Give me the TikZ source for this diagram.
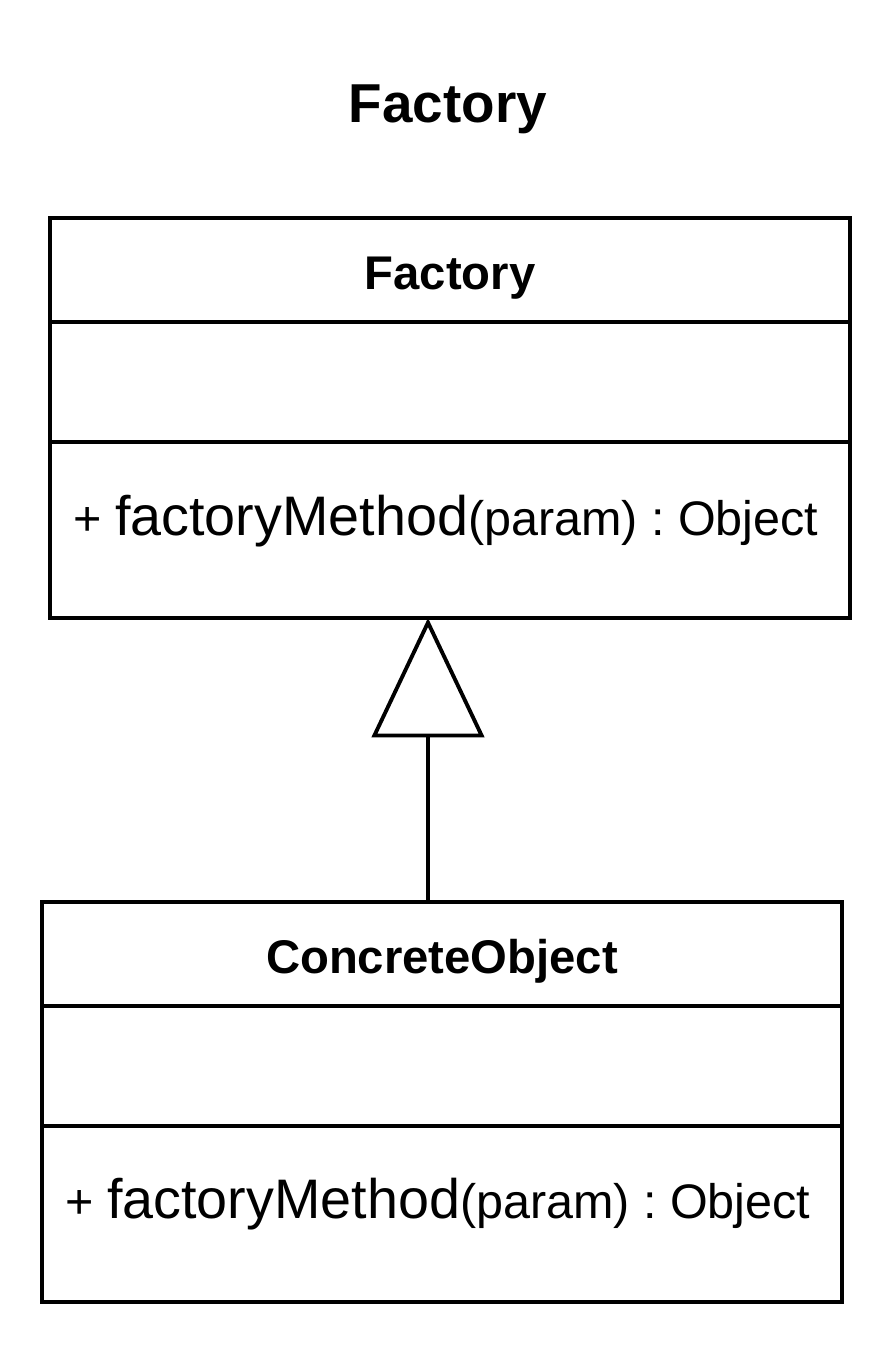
\documentclass[tikz,border=0pt]{standalone}
\usepackage{fontspec}
\setmainfont{Liberation Sans}
\usetikzlibrary{positioning,arrows.meta}
\frenchspacing
\tikzset{
  compartment/.style={draw, rectangle, line width=2.2pt, minimum width=16cm, outer sep=0pt, inner sep=0pt},
  namebox/.style={compartment, minimum height=2.08cm},
  attrbox/.style={compartment, minimum height=2.4cm},
  methbox/.style={compartment, minimum height=3.52cm},
  titletext/.style={anchor=base, inner sep=0pt, font=\fontsize{31.2}{36}\selectfont\bfseries},
  classname/.style={anchor=base, inner sep=0pt, font=\fontsize{26.9}{32}\selectfont\bfseries},
  method/.style={anchor=base west, inner sep=0pt, font=\fontsize{27.6}{32}\selectfont},
  extends/.style={line width=2.2pt, -{Triangle[open, length=68pt, width=64pt]}}
}
\newcommand{\bigpart}[1]{{\fontsize{31.7}{36}\selectfont #1}}
\begin{document}
\begin{tikzpicture}[x=0.02cm, y=-0.02cm]
 \useasboundingbox (0,0) rectangle (892,1352);
 \node[titletext] (title) at (448,122) {Factory};
 % parent class
 \node[namebox] (fname) at (450,270) {};
 \node[attrbox, below=0pt of fname] (fattr) {};
 \node[methbox, below=0pt of fattr] (fmeth) {};
 \node[classname] (fnametext) at (450,289) {Factory};
 \node[method] (fmethtext) at (73,535) {+ \bigpart{factoryMethod}(param) : Object};
 % child class
 \node[namebox] (cname) at (442,954) {};
 \node[attrbox, below=0pt of cname] (cattr) {};
 \node[methbox, below=0pt of cattr] (cmeth) {};
 \node[classname] (cnametext) at (442,973) {ConcreteObject};
 \node[method] (cmethtext) at (65,1218) {+ \bigpart{factoryMethod}(param) : Object};
 % generalisation
 \coordinate (tip) at (428,618);
 \draw[extends] (cname.north -| tip) -- (tip);
\end{tikzpicture}
\end{document}
